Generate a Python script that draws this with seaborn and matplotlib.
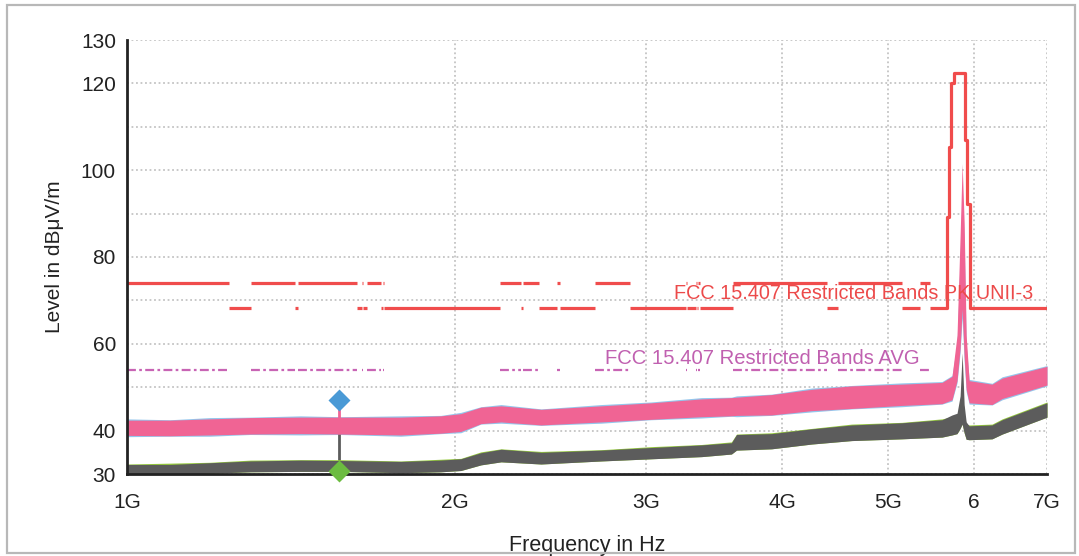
import numpy as np
import pandas as pd
import matplotlib
matplotlib.use('Agg')
import matplotlib.pyplot as plt
from matplotlib.patches import Rectangle
from matplotlib.ticker import FixedLocator, NullLocator
import seaborn as sns

# frequency knots in GHz
freq = [1.000, 1.095, 1.192, 1.298, 1.443, 1.571, 1.784, 1.942, 2.026, 2.114,
        2.206, 2.401, 2.726, 3.030, 3.371, 3.591, 3.630, 3.909, 4.255, 4.632,
        5.150, 5.606, 5.726, 5.787, 5.825, 5.850, 5.875, 5.900, 5.937, 6.232,
        6.367, 7.000]

# peak trace (pink) envelope
pk_hi = [42.4, 42.4, 42.7, 43.0, 43.1, 43.1, 43.1, 43.4, 43.9, 45.4,
         45.7, 44.9, 45.7, 46.4, 47.3, 47.6, 47.7, 48.3, 49.5, 50.3,
         50.7, 51.1, 52.5, 62.0, 85.0, 101.5, 88.0, 62.0, 51.5, 50.7,
         52.1, 54.8]
pk_lo = [38.9, 38.8, 39.0, 39.2, 39.3, 39.2, 39.0, 39.4, 39.8, 41.6,
         42.0, 41.3, 42.0, 42.6, 43.2, 43.4, 43.5, 43.6, 44.6, 45.1,
         45.8, 46.2, 47.1, 51.5, 59.0, 68.0, 57.0, 49.5, 46.4, 46.0,
         47.4, 50.5]
# second peak trace (light blue), mostly hidden under the pink one
bl_hi = [42.7, 42.5, 43.0, 43.1, 43.4, 43.2, 43.4, 43.5, 44.2, 45.5,
         46.0, 45.0, 46.0, 46.6, 47.6, 47.7, 48.0, 48.4, 49.8, 50.4,
         51.0, 51.3, 52.7, 60.0, 80.0, 96.0, 84.0, 60.0, 51.8, 50.9,
         52.4, 55.0]
bl_lo = [38.6, 38.7, 38.7, 39.1, 39.0, 39.1, 38.7, 39.3, 39.5, 41.5,
         41.7, 41.2, 41.7, 42.5, 42.9, 43.3, 43.2, 43.5, 44.3, 45.0,
         45.5, 46.1, 46.8, 51.0, 58.0, 66.0, 56.0, 49.0, 46.1, 45.9,
         47.1, 50.3]

# average trace (dark grey) envelope
av_hi = [32.2, 32.2, 32.6, 33.0, 33.2, 33.1, 32.9, 33.2, 33.5, 34.9,
         35.7, 35.0, 35.5, 36.1, 36.7, 37.2, 39.1, 39.3, 40.4, 41.3,
         41.8, 42.5, 43.6, 44.0, 48.0, 57.9, 46.0, 42.0, 41.1, 41.3,
         42.5, 46.4]
av_lo = [29.9, 29.9, 30.2, 30.5, 30.6, 30.6, 30.3, 30.5, 30.8, 32.1,
         32.8, 32.3, 33.0, 33.5, 34.0, 34.6, 35.5, 35.8, 36.9, 37.7,
         38.1, 38.5, 39.0, 39.3, 40.5, 41.5, 39.5, 38.0, 37.9, 38.1,
         39.2, 43.1]
# second average trace (green), peeks out above the grey one in places
gr_hi = [32.3, 32.5, 32.7, 33.2, 33.3, 33.3, 33.0, 33.4, 33.6, 35.1,
         35.8, 35.2, 35.6, 36.3, 36.8, 37.4, 39.2, 39.5, 40.5, 41.5,
         41.9, 42.7, 43.2, 43.0, 45.0, 50.0, 44.0, 41.5, 41.3, 41.5,
         42.7, 46.6]
gr_lo = av_lo

# FCC 15.205 restricted bands (GHz) where the 74 / 54 dBuV/m limits apply
band_lo = [1.000, 1.300, 1.435, 1.6455, 1.660, 1.7188, 2.200, 2.310, 2.4835,
           2.690, 3.260, 3.332, 3.3458, 3.600, 4.500, 5.350]
band_hi = [1.240, 1.427, 1.6265, 1.6465, 1.710, 1.7222, 2.300, 2.390, 2.500,
           2.900, 3.267, 3.339, 3.358, 4.400, 5.150, 5.460]
pk_restricted = 74.0
avg_restricted = 54.0
pk_outside = 68.2

# UNII-3 peak mask around the carrier
mask_f = [5.665, 5.665, 5.692, 5.692, 5.717, 5.717, 5.746, 5.746,
          5.890, 5.890, 5.915, 5.915, 5.944, 5.944, 7.000]
mask_l = [68.2, 89.3, 89.3, 105.3, 105.3, 120.0, 120.0, 122.4,
          122.4, 107.0, 107.0, 92.2, 92.2, 68.2, 68.2]

# marker
mk_f = 1.566
mk_pk = 47.0
mk_av = 30.8

x_ticks = [1, 2, 3, 4, 5, 6, 7]
x_labels = ['1G', '2G', '3G', '4G', '5G', '6', '7G']
y_ticks = [30, 40, 50, 60, 70, 80, 90, 100, 110, 120, 130]
y_labels = ['30', '40', '', '60', '', '80', '', '100', '', '120', '130']

sns.set_style('white')
plt.rcParams['font.family'] = ['Liberation Sans', 'DejaVu Sans']

W, H = 1079, 556
fig = plt.figure(figsize=(W / 100, H / 100), dpi=100)
ax = fig.add_axes([127 / W, 1 - 474 / H, (1047 - 127) / W, (474 - 40) / H])

fig.add_artist(Rectangle((7 / W, 3 / H), (1075 - 7) / W, (552 - 4) / H,
                         transform=fig.transFigure, fill=False,
                         ec='#b8b8b8', lw=1.6))

ax.set_xscale('log')
ax.set_xlim(1, 7)
ax.set_ylim(30, 130)

# marker stems (under the traces)
ax.vlines(mk_f, pk_lo[5], mk_pk, color='#f06494', lw=2, zorder=2.5)
ax.vlines(mk_f, mk_av, pk_lo[5], color='#5c5c5c', lw=2, zorder=2.5)

# traces
ax.fill_between(freq, bl_lo, bl_hi, color='#94c6ec', lw=0, zorder=2)
ax.fill_between(freq, pk_lo, pk_hi, color='#f06494', lw=0, zorder=3)
ax.fill_between(freq, gr_lo, gr_hi, color='#94c83c', lw=0, zorder=4)
ax.fill_between(freq, av_lo, av_hi, color='#5c5c5c', lw=0, zorder=5)

# limit lines
gap_lo = band_hi[:-1] + [band_hi[-1]]
gap_hi = band_lo[1:] + [mask_f[0]]
ax.hlines([pk_restricted] * len(band_lo), band_lo, band_hi, color='#f04c4c',
          lw=2.3, zorder=6)
ax.hlines([pk_outside] * len(gap_lo), gap_lo, gap_hi, color='#f04c4c',
          lw=2.3, zorder=6)
mask = pd.DataFrame({'f': mask_f, 'level': mask_l})
sns.lineplot(data=mask, x='f', y='level', sort=False, estimator=None,
             color='#f04c4c', lw=2.3, ax=ax, zorder=6)
ax.hlines([avg_restricted] * len(band_lo), band_lo, band_hi, color='#c864b4',
          lw=1.6, linestyles=[(0, (4, 1.5, 1.2, 1.5))], zorder=6)

ax.text(3.18, 71.7, 'FCC 15.407 Restricted Bands PK UNII-3', color='#ec4a4a',
        fontsize=14.3, va='center', ha='left', zorder=7)
ax.text(2.75, 56.7, 'FCC 15.407 Restricted Bands AVG', color='#c060b0',
        fontsize=14.6, va='center', ha='left', zorder=7)

ax.plot([mk_f], [mk_pk], 'D', ms=11, color='#4a9ad6', mec='none', zorder=8,
        clip_on=False)
ax.plot([mk_f], [mk_av], 'D', ms=11, color='#6cbc40', mec='none', zorder=10,
        clip_on=False)

# axes styling
ax.xaxis.set_major_locator(FixedLocator(x_ticks))
ax.xaxis.set_minor_locator(NullLocator())
ax.set_xticklabels(x_labels, fontsize=15)
ax.yaxis.set_major_locator(FixedLocator(y_ticks))
ax.set_yticklabels(y_labels, fontsize=15)
ax.tick_params(direction='inout', length=10, width=1.5, color='#222222',
               labelcolor='#222222', pad=3)
ax.tick_params(axis='x', pad=9)
ax.grid(True, color='#c4c4c4', ls=(0, (1, 1.5)), lw=1.3)
for side in ['top', 'right']:
    ax.spines[side].set_visible(False)
for side in ['left', 'bottom']:
    ax.spines[side].set_color('#222222')
    ax.spines[side].set_linewidth(2)
    ax.spines[side].set_zorder(9)

ax.set_xlabel('Frequency in Hz', fontsize=15.5, color='#222222', labelpad=16)
ax.set_ylabel('Level in dB\u03bcV/m', fontsize=15, color='#222222', labelpad=12)

fig.savefig('out.png', dpi=100)
